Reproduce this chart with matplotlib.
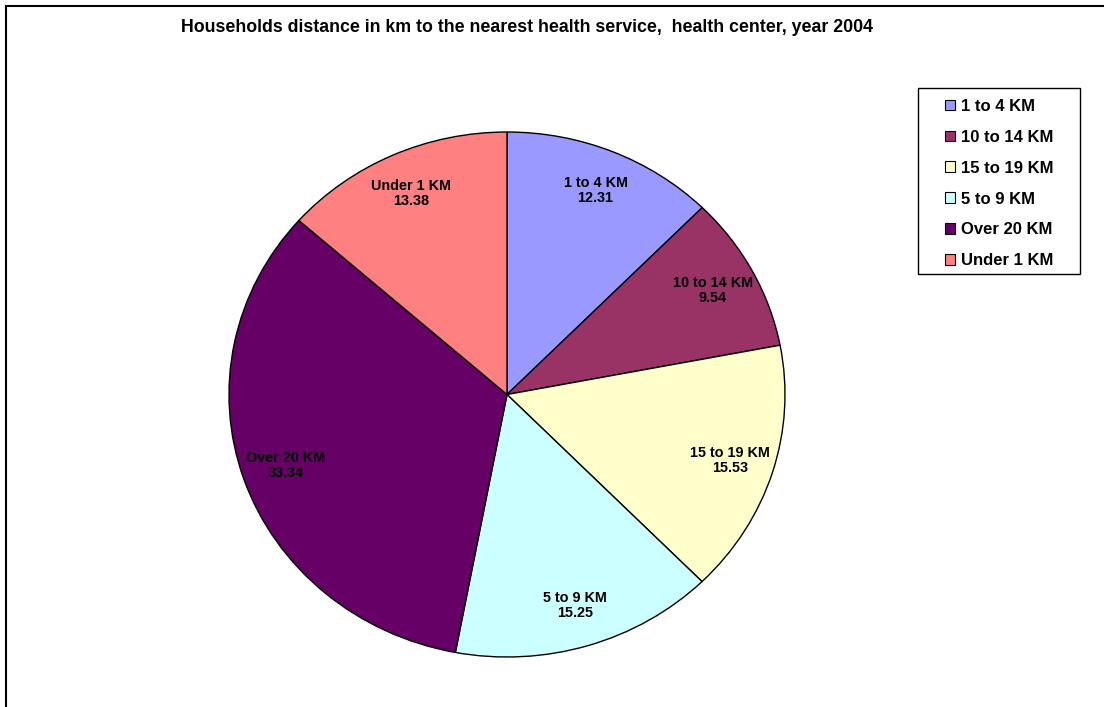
import matplotlib.pyplot as plt
from matplotlib.patches import Rectangle

plt.rcParams['font.family'] = ['Liberation Sans', 'DejaVu Sans']
plt.rcParams['font.weight'] = 'bold'

categories = ["1 to 4 KM", "10 to 14 KM", "15 to 19 KM", "5 to 9 KM", "Over 20 KM", "Under 1 KM"]
values = [12.31, 9.54, 15.53, 15.25, 33.34, 13.38]
colors = ["#9999FF", "#993366", "#FFFFCC", "#CCFFFF", "#660066", "#FF8080"]
title = "Households distance in km to the nearest health service,  health center, year 2004"

W, H = 1104, 707
fig = plt.figure(figsize=(W / 100, H / 100), dpi=100)

# outer frame (only left and top edges are inside the image)
fig.add_artist(Rectangle((6 / W, -0.5), 2.0, 1.5 - 6 / H, transform=fig.transFigure,
                         fill=False, edgecolor="black", linewidth=1.5))

fig.text(527 / W, 1 - 28 / H, title, ha="center", va="center", fontsize=12.8, fontweight="bold")

# pie axes, slightly wider than tall
ax = fig.add_axes([229 / W, 50 / H, 556 / W, 525 / H])
wedges, texts = ax.pie(values, colors=colors, startangle=90, counterclock=False,
                       labels=[f"{c}\n{v:.2f}" for c, v in zip(categories, values)],
                       labeldistance=0.84,
                       wedgeprops=dict(edgecolor="black", linewidth=1.0),
                       textprops=dict(fontsize=10.4, fontweight="bold", color="black"))
for t in texts:
    t.set_ha("center")
    t.set_va("center")
    t.set_linespacing(1.1)
ax.set_aspect("auto")
ax.set_xlim(-1, 1)
ax.set_ylim(-1, 1)
ax.axis("off")

# legend box drawn separately so the padding can differ per side
fig.add_artist(Rectangle((918 / W, 1 - 274 / H), 162 / W, 186 / H, transform=fig.transFigure,
                         fill=False, edgecolor="black", linewidth=1.0))
leg = fig.legend(wedges, categories, loc="upper left",
                 bbox_to_anchor=(945 / W, 1 - 99 / H), borderaxespad=0,
                 frameon=False, borderpad=0,
                 prop=dict(size=12, weight="bold"),
                 handlelength=0.6, handleheight=0.6, handletextpad=0.36,
                 labelspacing=0.95)
for h in leg.legend_handles:
    h.set_edgecolor("black")
    h.set_linewidth(0.8)

fig.savefig("out.png", dpi=100, facecolor="white")
